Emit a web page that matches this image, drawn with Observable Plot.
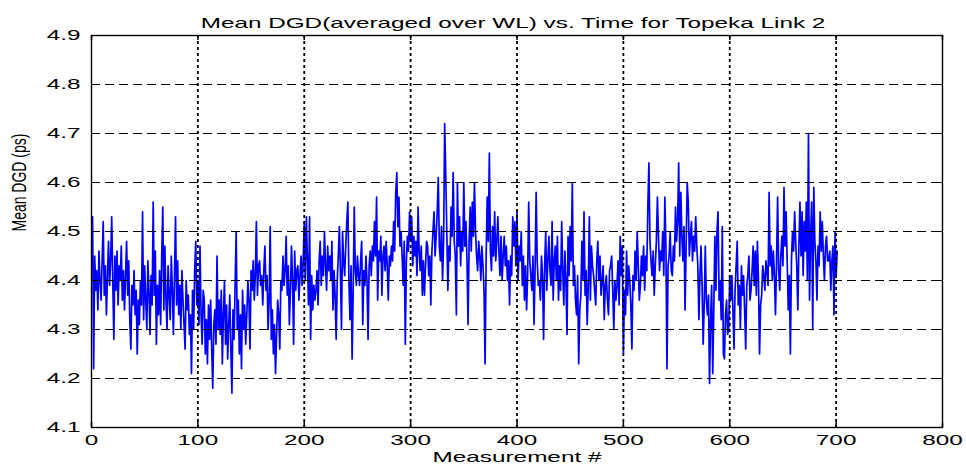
<!DOCTYPE html>
<html>
<head>
<meta charset="utf-8">
<script src="https://cdn.jsdelivr.net/npm/d3@7"></script>
<script src="https://cdn.jsdelivr.net/npm/@observablehq/plot@0.6"></script>
<style>
  html, body { margin: 0; padding: 0; background: #fff; }
  #chart svg { display: block; }
</style>
</head>
<body>
<div id="chart"></div>
<script>
// ---- Text ----
const titleText = "Mean DGD(averaged over WL) vs. Time for Topeka Link 2";
const xLabelText = "Measurement #";
const yLabelText = "Mean DGD (ps)";

// ---- Tick values ----
const xTicks = [0, 100, 200, 300, 400, 500, 600, 700, 800];
const yTicks = [4.1, 4.2, 4.3, 4.4, 4.5, 4.6, 4.7, 4.8, 4.9];

const dgd001to100 = [
  4.53, 4.22, 4.45, 4.38, 4.42, 4.34, 4.46, 4.40, 4.36, 4.44,
  4.52, 4.37, 4.43, 4.33, 4.41, 4.48, 4.39, 4.44, 4.53, 4.40,
  4.28, 4.45, 4.38, 4.46, 4.35, 4.43, 4.40, 4.47, 4.36, 4.42,
  4.34, 4.41, 4.48, 4.37, 4.44, 4.32, 4.26, 4.39, 4.35, 4.42,
  4.33, 4.38, 4.25, 4.36, 4.31, 4.40, 4.35, 4.54, 4.32, 4.43,
  4.36, 4.30, 4.44, 4.38, 4.29, 4.41, 4.35, 4.56, 4.37, 4.46,
  4.27, 4.39, 4.33, 4.42, 4.31, 4.45, 4.55, 4.34, 4.47, 4.36,
  4.30, 4.43, 4.37, 4.32, 4.45, 4.38, 4.29, 4.41, 4.53, 4.35,
  4.44, 4.33, 4.39, 4.30, 4.42, 4.36, 4.31, 4.26, 4.40, 4.34,
  4.37, 4.29, 4.33, 4.21, 4.38, 4.30, 4.42, 4.48, 4.35, 4.40
];
const dgd101to200 = [
  4.31, 4.47, 4.33, 4.27, 4.38, 4.36, 4.25, 4.32, 4.23, 4.35,
  4.28, 4.36, 4.26, 4.18, 4.31, 4.34, 4.27, 4.45, 4.30, 4.36,
  4.29, 4.38, 4.23, 4.33, 4.40, 4.27, 4.35, 4.24, 4.31, 4.37,
  4.26, 4.17, 4.34, 4.28, 4.39, 4.50, 4.30, 4.36, 4.25, 4.33,
  4.22, 4.38, 4.30, 4.35, 4.27, 4.33, 4.40, 4.36, 4.26, 4.42,
  4.38, 4.44, 4.36, 4.41, 4.52, 4.37, 4.43, 4.44, 4.39, 4.41,
  4.35, 4.42, 4.47, 4.38, 4.41, 4.30, 4.36, 4.51, 4.28, 4.34,
  4.25, 4.31, 4.21, 4.29, 4.36, 4.33, 4.26, 4.40, 4.38, 4.45,
  4.39, 4.42, 4.49, 4.37, 4.43, 4.31, 4.38, 4.47, 4.40, 4.27,
  4.46, 4.38, 4.42, 4.43, 4.36, 4.41, 4.45, 4.39, 4.44, 4.52
];
const dgd201to300 = [
  4.40, 4.53, 4.44, 4.35, 4.53, 4.28, 4.41, 4.34, 4.39, 4.36,
  4.38, 4.42, 4.35, 4.44, 4.48, 4.39, 4.45, 4.41, 4.50, 4.43,
  4.38, 4.47, 4.42, 4.45, 4.40, 4.48, 4.34, 4.42, 4.37, 4.28,
  4.40, 4.45, 4.51, 4.42, 4.30, 4.50, 4.44, 4.41, 4.47, 4.52,
  4.56, 4.40, 4.32, 4.43, 4.24, 4.38, 4.55, 4.42, 4.39, 4.45,
  4.41, 4.39, 4.44, 4.48, 4.31, 4.42, 4.39, 4.45, 4.40, 4.28,
  4.43, 4.46, 4.41, 4.47, 4.44, 4.52, 4.45, 4.57, 4.36, 4.46,
  4.44, 4.49, 4.37, 4.45, 4.47, 4.42, 4.48, 4.43, 4.36, 4.45,
  4.43, 4.47, 4.44, 4.52, 4.46, 4.58, 4.62, 4.51, 4.57, 4.47,
  4.50, 4.45, 4.39, 4.48, 4.27, 4.44, 4.49, 4.46, 4.54, 4.48
];
const dgd301to400 = [
  4.53, 4.43, 4.49, 4.45, 4.48, 4.41, 4.55, 4.46, 4.42, 4.47,
  4.37, 4.44, 4.37, 4.43, 4.48, 4.47, 4.41, 4.45, 4.35, 4.46,
  4.50, 4.54, 4.45, 4.49, 4.54, 4.61, 4.47, 4.44, 4.51, 4.40,
  4.48, 4.72, 4.62, 4.50, 4.38, 4.47, 4.44, 4.55, 4.49, 4.62,
  4.48, 4.45, 4.33, 4.60, 4.47, 4.53, 4.43, 4.50, 4.46, 4.60,
  4.47, 4.52, 4.44, 4.31, 4.48, 4.55, 4.46, 4.56, 4.49, 4.60,
  4.50, 4.45, 4.42, 4.48, 4.45, 4.40, 4.47, 4.43, 4.38, 4.23,
  4.45, 4.57, 4.48, 4.66, 4.46, 4.42, 4.51, 4.45, 4.54, 4.44,
  4.48, 4.53, 4.46, 4.41, 4.49, 4.40, 4.45, 4.49, 4.43, 4.47,
  4.40, 4.44, 4.35, 4.45, 4.41, 4.53, 4.47, 4.52, 4.43, 4.54
];
const dgd401to500 = [
  4.40, 4.47, 4.44, 4.50, 4.39, 4.45, 4.36, 4.43, 4.34, 4.41,
  4.56, 4.44, 4.41, 4.38, 4.45, 4.31, 4.42, 4.58, 4.44, 4.39,
  4.40, 4.36, 4.45, 4.41, 4.28, 4.43, 4.50, 4.38, 4.44, 4.49,
  4.42, 4.39, 4.52, 4.36, 4.44, 4.47, 4.40, 4.49, 4.36, 4.43,
  4.38, 4.52, 4.42, 4.35, 4.46, 4.40, 4.29, 4.49, 4.41, 4.51,
  4.44, 4.60, 4.39, 4.43, 4.36, 4.33, 4.41, 4.23, 4.34, 4.37,
  4.48, 4.40, 4.54, 4.37, 4.42, 4.31, 4.39, 4.53, 4.36, 4.47,
  4.43, 4.41, 4.38, 4.35, 4.44, 4.48, 4.40, 4.45, 4.37, 4.40,
  4.43, 4.32, 4.39, 4.41, 4.36, 4.33, 4.42, 4.43, 4.45, 4.38,
  4.30, 4.40, 4.36, 4.39, 4.44, 4.35, 4.49, 4.41, 4.47, 4.25
];
const dgd501to600 = [
  4.38, 4.33, 4.46, 4.37, 4.43, 4.40, 4.35, 4.26, 4.41, 4.38,
  4.46, 4.40, 4.50, 4.43, 4.36, 4.39, 4.45, 4.41, 4.47, 4.38,
  4.45, 4.42, 4.55, 4.64, 4.48, 4.44, 4.41, 4.46, 4.37, 4.43,
  4.48, 4.57, 4.49, 4.42, 4.46, 4.44, 4.50, 4.41, 4.57, 4.47,
  4.22, 4.43, 4.45, 4.50, 4.42, 4.41, 4.47, 4.44, 4.55, 4.48,
  4.52, 4.64, 4.45, 4.58, 4.49, 4.44, 4.51, 4.34, 4.47, 4.60,
  4.56, 4.45, 4.49, 4.52, 4.44, 4.49, 4.46, 4.53, 4.47, 4.43,
  4.32, 4.41, 4.47, 4.39, 4.27, 4.35, 4.47, 4.36, 4.33, 4.37,
  4.19, 4.32, 4.39, 4.21, 4.34, 4.49, 4.38, 4.50, 4.54, 4.36,
  4.40, 4.32, 4.51, 4.25, 4.24, 4.33, 4.36, 4.29, 4.30, 4.41
];
const dgd601to701 = [
  4.36, 4.41, 4.34, 4.26, 4.38, 4.43, 4.48, 4.35, 4.39, 4.30,
  4.43, 4.37, 4.41, 4.34, 4.26, 4.39, 4.41, 4.45, 4.36, 4.38,
  4.42, 4.47, 4.39, 4.46, 4.37, 4.48, 4.40, 4.25, 4.35, 4.37,
  4.43, 4.41, 4.38, 4.44, 4.42, 4.39, 4.58, 4.43, 4.47, 4.40,
  4.46, 4.41, 4.33, 4.44, 4.57, 4.42, 4.38, 4.45, 4.49, 4.43,
  4.59, 4.47, 4.54, 4.44, 4.34, 4.41, 4.25, 4.44, 4.50, 4.46,
  4.54, 4.48, 4.43, 4.34, 4.47, 4.56, 4.45, 4.54, 4.41, 4.52,
  4.46, 4.56, 4.40, 4.70, 4.36, 4.49, 4.56, 4.30, 4.59, 4.48,
  4.44, 4.36, 4.47, 4.43, 4.54, 4.46, 4.52, 4.45, 4.40, 4.47,
  4.49, 4.44, 4.44, 4.46, 4.38, 4.44, 4.47, 4.33, 4.50, 4.41,
  4.46
];

// ---- Build table ----
const meanDGD = [].concat(dgd001to100, dgd101to200, dgd201to300, dgd301to400,
                          dgd401to500, dgd501to600, dgd601to701);
const data = meanDGD.map((v, i) => ({measurement: i + 1, dgd: v}));

// ---- Layout ----
const W = 966, H = 474;
const mL = 91, mR = 24, mT = 35, mB = 47;
const tickLen = 5;
const innerW = W - mL - mR, innerH = H - mT - mB;
const font = "'Liberation Sans', Arial, Helvetica, sans-serif";
const stretch = 1.62;   // the reference text is horizontally stretched

const chart = Plot.plot({
  width: W,
  height: H,
  marginLeft: mL, marginRight: mR, marginTop: mT, marginBottom: mB,
  style: {fontFamily: font, fontSize: "15px", background: "#fff", color: "#000"},
  x: {domain: [0, 800], ticks: xTicks, label: null},
  y: {domain: [4.1, 4.9], ticks: yTicks, label: null},
  marks: [
    Plot.line(data, {x: "measurement", y: "dgd", stroke: "#0000ff", strokeWidth: 1.7}),
    // grid (drawn over data as in the reference)
    Plot.gridY(yTicks.slice(1, -1), {stroke: "#000", strokeOpacity: 1, strokeWidth: 1, strokeDasharray: "9,5"}),
    Plot.gridX(xTicks.slice(1, -1), {stroke: "#000", strokeOpacity: 1, strokeWidth: 1.8, strokeDasharray: "3,3"}),
    // inward ticks on all four sides
    Plot.tickX(xTicks, {x: d => d, stroke: "#000", strokeWidth: 1.5, insetTop: innerH - tickLen}),
    Plot.tickX(xTicks, {x: d => d, stroke: "#000", strokeWidth: 1.5, insetBottom: innerH - tickLen}),
    Plot.tickY(yTicks, {y: d => d, stroke: "#000", strokeWidth: 1, insetRight: innerW - tickLen}),
    Plot.tickY(yTicks, {y: d => d, stroke: "#000", strokeWidth: 1, insetLeft: innerW - tickLen}),
    Plot.frame({stroke: "#000", strokeWidth: 1.4}),
    // tick labels
    Plot.axisX(xTicks, {tickSize: 0, tickPadding: 7, fill: "#000", fontSize: 15}),
    Plot.axisY(yTicks, {tickSize: 0, tickPadding: 11, fill: "#000", fontSize: 15, tickFormat: d => d.toFixed(1)}),
    // title and axis labels
    Plot.text([titleText], {frameAnchor: "top", dy: -18, dx: -4, fill: "#000", fontSize: 15, text: d => d}),
    Plot.text([xLabelText], {frameAnchor: "bottom", dy: 34, fill: "#000", fontSize: 15, text: d => d}),
    Plot.text([yLabelText], {frameAnchor: "left", dx: -72, rotate: -90, fill: "#000", fontSize: 14, text: d => d})
  ]
});

// stretch all text horizontally like the reference
chart.querySelectorAll("text").forEach(t => {
  const tr = t.getAttribute("transform") || "";
  if (/rotate/.test(tr)) {
    t.setAttribute("transform", tr + " scale(1,1.4)");
  } else if (tr) {
    t.setAttribute("transform", tr + ` scale(${stretch},1)`);
  } else {
    const x = +(t.getAttribute("x") || 0);
    t.setAttribute("x", 0);
    t.setAttribute("transform", `translate(${x},0) scale(${stretch},1)`);
  }
});

document.getElementById("chart").appendChild(chart);
</script>
</body>
</html>
